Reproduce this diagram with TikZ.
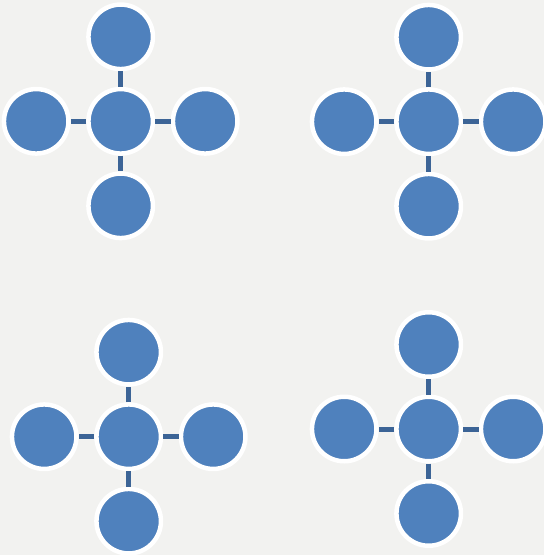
\documentclass[tikz,border=0pt]{standalone}
\definecolor{bgc}{HTML}{F2F2F0}
\definecolor{nodec}{HTML}{4F81BD}
\definecolor{linkc}{HTML}{3C6496}
\tikzset{
  ball/.style={circle, fill=nodec, draw=white, line width=4.5pt, minimum size=64.5pt, inner sep=0pt},
  link/.style={draw=linkc, line width=5pt}
}
\newcommand{\cluster}[3]{%
  \node[ball] (#1c) at (#2,#3) {};
  \node[ball] (#1t) at (#2,#3-84.5) {};
  \node[ball] (#1b) at (#2,#3+84.5) {};
  \node[ball] (#1l) at (#2-84.5,#3) {};
  \node[ball] (#1r) at (#2+84.5,#3) {};
  \path[link] (#1c) -- (#1t);
  \path[link] (#1c) -- (#1b);
  \path[link] (#1c) -- (#1l);
  \path[link] (#1c) -- (#1r);
}
\begin{document}
\begin{tikzpicture}[x=1pt,y=-1pt]
\fill[bgc] (0,0) rectangle (544,555);
\useasboundingbox (0,0) rectangle (544,555);
\cluster{A}{120.7}{121.3}
\cluster{B}{428.7}{121.7}
\cluster{C}{128.7}{436.7}
\cluster{D}{428.7}{429}
\end{tikzpicture}
\end{document}
